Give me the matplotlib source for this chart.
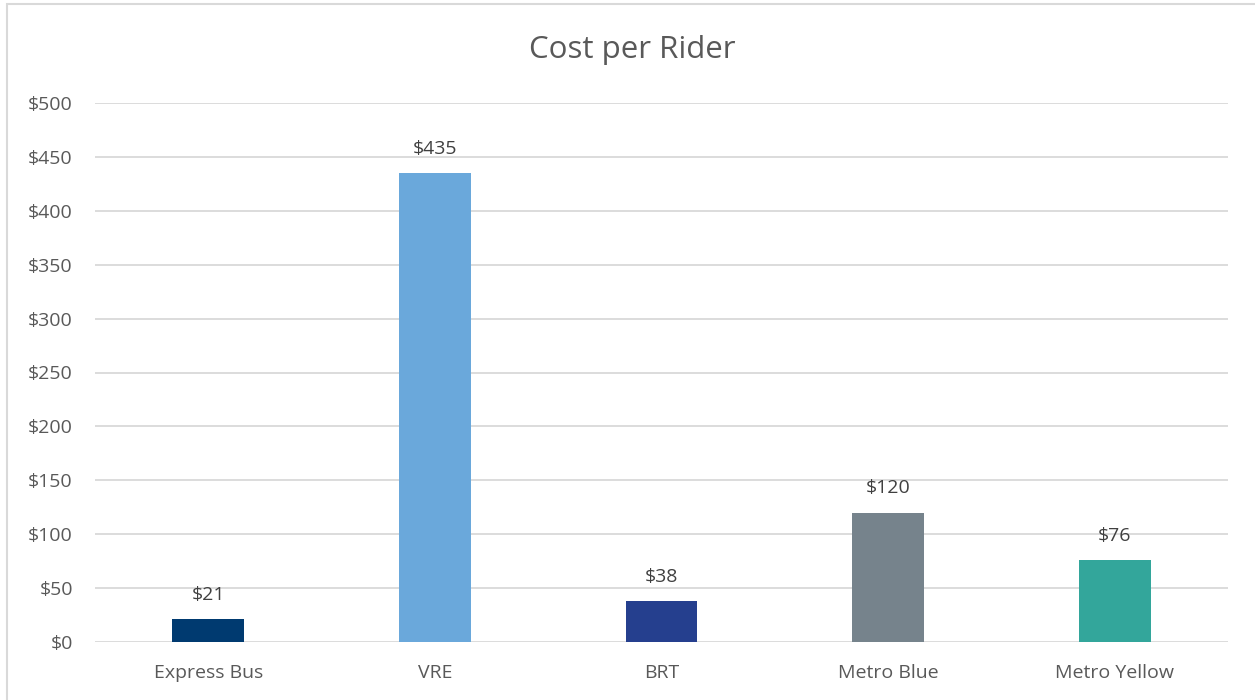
import matplotlib.pyplot as plt
from matplotlib.patches import Rectangle

categories = ["Express Bus", "VRE", "BRT", "Metro Blue", "Metro Yellow"]
costs = [21, 435, 38, 120, 76]
colors = ["#003A70", "#6AA8DB", "#253F8E", "#76838C", "#33A69B"]
yticks = [0, 50, 100, 150, 200, 250, 300, 350, 400, 450, 500]

plt.rcParams['font.family'] = ['Open Sans', 'DejaVu Sans']
text_color = "#595959"

W, H = 1255, 700
fig = plt.figure(figsize=(W / 100, H / 100), dpi=100)

# chart-area frame
fig.patches.append(Rectangle((7 / W, -0.1), 1.2, (H - 4) / H + 0.1,
                             transform=fig.transFigure, fill=False,
                             edgecolor="#D9D9D9", linewidth=1.5))

ax = fig.add_axes([95 / W, 1 - 642 / H, (1228 - 95) / W, (642 - 103) / H])
x = range(len(categories))
bars = ax.bar(x, costs, width=0.317, color=colors, zorder=3)

for xi, v in zip(x, costs):
    ax.annotate(f"${v}", (xi, v), xytext=(0, 11), textcoords="offset points",
                ha="center", va="bottom", fontsize=14, color="#404040")

ax.set_xlim(-0.5, len(categories) - 0.5)
ax.set_ylim(0, 500)
ax.set_yticks(yticks)
ax.set_yticklabels([f"${t}" for t in yticks])
ax.set_xticks(list(x))
ax.set_xticklabels(categories)
ax.tick_params(axis="both", length=0, labelsize=14, labelcolor=text_color)
ax.tick_params(axis="y", pad=16)
ax.tick_params(axis="x", pad=16)
ax.grid(axis="y", color="#D9D9D9", linewidth=1.3, zorder=0)
for s in ax.spines.values():
    s.set_visible(False)

fig.text(632 / W, 1 - 50 / H, "Cost per Rider", ha="center", va="center",
         fontsize=22.5, color=text_color)

fig.savefig("out.png", dpi=100)
